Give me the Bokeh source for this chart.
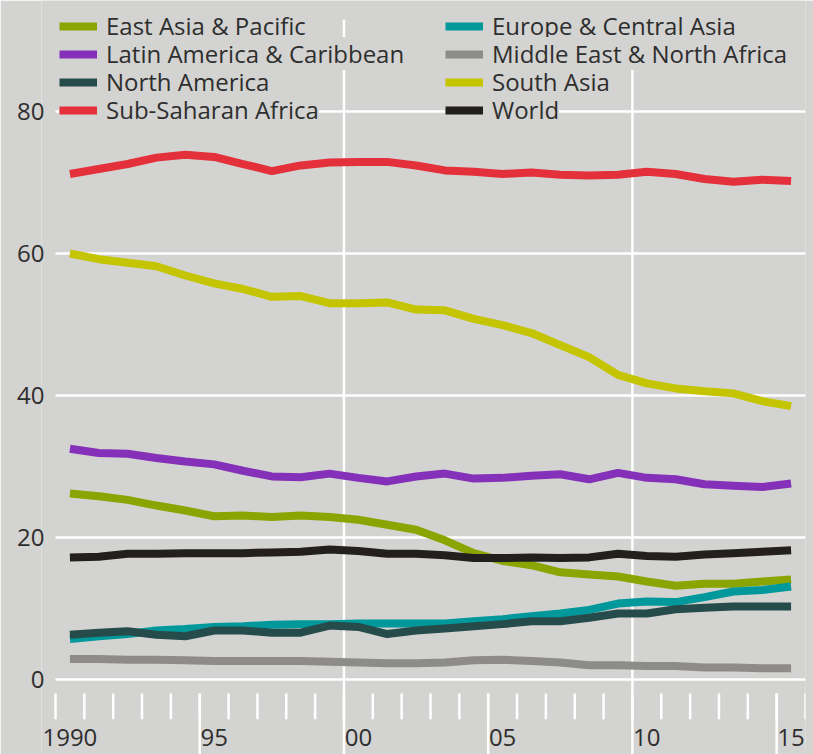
from bokeh.plotting import figure
from bokeh.models import Range1d, FixedTicker, Legend, LegendItem, LabelSet, ColumnDataSource
from bokeh.embed import file_html
from bokeh.resources import INLINE
from bokeh.core.properties import value

# ---------------- data ----------------
years = list(range(1990, 2016))

east_asia = [26.2, 25.8, 25.3, 24.5, 23.8, 23.0, 23.1, 22.9, 23.1, 22.9, 22.5, 21.8, 21.1,
             19.6, 17.8, 16.7, 16.1, 15.1, 14.8, 14.5, 13.8, 13.2, 13.5, 13.5, 13.8, 14.1]
europe = [5.7, 6.1, 6.4, 6.9, 7.1, 7.4, 7.5, 7.7, 7.8, 7.8, 7.9, 7.9, 7.9,
          7.9, 8.2, 8.5, 8.9, 9.3, 9.8, 10.7, 11.0, 10.9, 11.6, 12.4, 12.6, 13.1]
latin = [32.5, 31.9, 31.8, 31.2, 30.7, 30.3, 29.4, 28.6, 28.5, 29.0, 28.4, 27.9, 28.6,
         29.0, 28.3, 28.4, 28.7, 28.9, 28.2, 29.1, 28.4, 28.2, 27.5, 27.3, 27.1, 27.6]
mena = [2.9, 2.9, 2.8, 2.8, 2.7, 2.6, 2.6, 2.6, 2.6, 2.5, 2.4, 2.3, 2.3,
        2.4, 2.7, 2.8, 2.6, 2.4, 2.0, 2.0, 1.9, 1.9, 1.7, 1.7, 1.6, 1.6]
north_america = [6.3, 6.6, 6.8, 6.3, 6.1, 6.9, 6.9, 6.6, 6.6, 7.6, 7.4, 6.4, 6.9,
                 7.2, 7.5, 7.8, 8.2, 8.2, 8.7, 9.3, 9.3, 9.9, 10.1, 10.3, 10.3, 10.3]
south_asia = [60.0, 59.2, 58.7, 58.2, 56.9, 55.8, 55.0, 53.9, 54.0, 53.0, 53.0, 53.1, 52.1,
              52.0, 50.8, 49.9, 48.8, 47.1, 45.4, 42.9, 41.7, 41.0, 40.6, 40.3, 39.2, 38.5]
ssa = [71.2, 71.9, 72.6, 73.5, 73.9, 73.6, 72.6, 71.6, 72.4, 72.8, 72.9, 72.9, 72.4,
       71.7, 71.5, 71.2, 71.4, 71.1, 71.0, 71.1, 71.5, 71.2, 70.5, 70.1, 70.4, 70.2]
world = [17.2, 17.3, 17.7, 17.7, 17.8, 17.8, 17.8, 17.9, 18.0, 18.3, 18.1, 17.7, 17.7,
         17.5, 17.1, 17.1, 17.2, 17.1, 17.2, 17.7, 17.4, 17.3, 17.6, 17.8, 18.0, 18.2]

series_names = ["East Asia & Pacific", "Europe & Central Asia", "Latin America & Caribbean",
                "Middle East & North Africa", "North America", "South Asia",
                "Sub-Saharan Africa", "World"]
series_values = [east_asia, europe, latin, mena, north_america, south_asia, ssa, world]
series_colors = ["#8aa500", "#00989b", "#8530b8", "#8e8c88", "#264b4b", "#c4c400",
                 "#e4303a", "#231f1e"]

y_ticks = [0, 20, 40, 60, 80]
tick_years = list(range(1990, 2017))
long_tick_years = [1995, 2005, 2015]
grid_years = [2000, 2010]
label_years = [1990, 1995, 2000, 2005, 2010, 2015]
label_texts = ["1990", "95", "00", "05", "10", "15"]

# ---------------- style ----------------
BG = "#d3d3d1"
TEXT = "#2e2e2e"
FONT = "Open Sans"
FS = "24px"
W, H_FIG = 813, 754
ML, MR = 41, 8
X0, X1 = 1989.515, 2016
Y0, Y1 = -10.56, 95.63
GRID_TOP = 92.96
TICK_TOP, TICK_BOT = -1.97, -5.6
LABEL_Y = -9.4

p = figure(width=W, height=H_FIG, output_backend="svg", toolbar_location=None,
           x_range=Range1d(X0, X1), y_range=Range1d(Y0, Y1),
           x_axis_location=None, min_border_left=ML, min_border_top=0,
           min_border_right=MR, min_border_bottom=0)
p.background_fill_color = BG
p.border_fill_color = BG
p.outline_line_color = None

p.yaxis.ticker = FixedTicker(ticks=y_ticks)
p.yaxis.axis_line_color = None
p.yaxis.major_tick_line_color = None
p.yaxis.minor_tick_line_color = None
p.yaxis.major_tick_in = 0
p.yaxis.major_tick_out = 0
p.yaxis.major_label_standoff = -3
p.yaxis.major_label_text_font = FONT
p.yaxis.major_label_text_font_size = FS
p.yaxis.major_label_text_color = TEXT

# grid lines drawn from the tick lists
p.ygrid.grid_line_color = None
p.xgrid.grid_line_color = None
p.segment(x0=[tick_years[0]] * len(y_ticks), y0=y_ticks, x1=[tick_years[-1]] * len(y_ticks),
          y1=y_ticks, line_color="white", line_width=2.5, level="underlay")
p.segment(x0=grid_years, y0=[Y0] * len(grid_years), x1=grid_years,
          y1=[GRID_TOP] * len(grid_years), line_color="white", line_width=2.5,
          level="underlay")

# year ticks below the zero line
p.segment(x0=tick_years, y0=[TICK_TOP] * len(tick_years), x1=tick_years,
          y1=[TICK_BOT] * len(tick_years), line_color="white", line_width=2.5)
p.segment(x0=long_tick_years, y0=[TICK_TOP] * len(long_tick_years), x1=long_tick_years,
          y1=[Y0] * len(long_tick_years), line_color="white", line_width=2.5)

# year labels, centred in the middle of each year
lab_src = ColumnDataSource(dict(x=[y + 0.5 for y in label_years],
                                y=[LABEL_Y] * len(label_years), text=label_texts))
p.add_layout(LabelSet(x="x", y="y", text="text", source=lab_src,
                      text_font=value(FONT), text_font_size=value(FS), text_color=TEXT,
                      text_align="center", text_baseline="alphabetic"))

xs = [y + 0.5 for y in years]
renderers = []
for vals, col in zip(series_values, series_colors):
    r = p.line(xs, vals, line_color=col, line_width=8)
    renderers.append(r)

# legends: one per item, with background boxes that hide the grid
FRAME_LEFT = ML
FRAME_BOTTOM = H_FIG
COL_LEFT = [63, 449]
ROW0, PITCH = 28, 28
LH, PAD = 20, 4
for i, (name, r) in enumerate(zip(series_names, renderers)):
    col, row = i % 2, i // 2
    center = ROW0 + row * PITCH
    vx = COL_LEFT[col] - PAD - FRAME_LEFT
    vy = FRAME_BOTTOM - (center + LH / 2 + PAD)
    leg = Legend(items=[LegendItem(label=name, renderers=[r])], location=(vx, vy),
                 background_fill_color=BG, background_fill_alpha=1.0,
                 border_line_color=None, padding=PAD, margin=0,
                 glyph_width=38, glyph_height=LH, label_height=LH, label_standoff=9,
                 label_text_font=FONT, label_text_font_size=FS, label_text_color=TEXT,
                 label_text_baseline="middle")
    p.add_layout(leg, "center")

open("out.html", "w").write(file_html(p, INLINE))
